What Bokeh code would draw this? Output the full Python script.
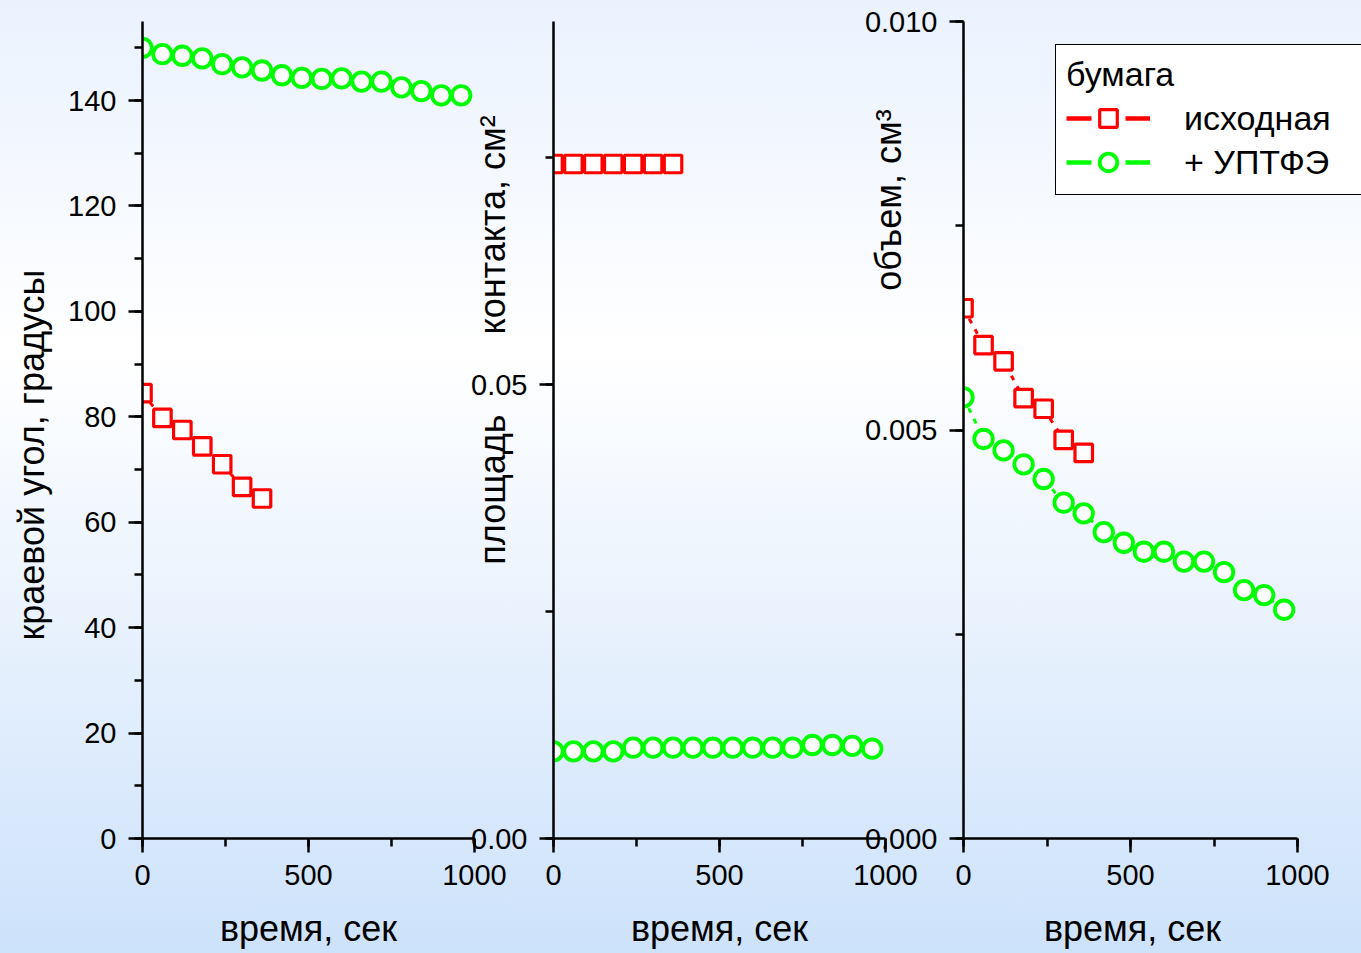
from bokeh.plotting import figure
from bokeh.layouts import row
from bokeh.models import (Range1d, NumeralTickFormatter, SingleIntervalTicker,
                          Legend, LegendItem, GlobalInlineStyleSheet)
from bokeh.embed import file_html
from bokeh.resources import INLINE

# ---------------- data ----------------
time_green = [0, 60, 120, 180, 240, 300, 360, 420, 480, 540, 600, 660, 720, 780, 840, 900, 960]
time_red = [0, 60, 120, 180, 240, 300, 360]

angle_red = [84.5, 79.8, 77.5, 74.4, 71.0, 66.7, 64.5]
angle_green = [150.0, 148.8, 148.5, 148.0, 146.9, 146.3, 145.7, 144.8, 144.3, 144.1, 144.2,
               143.6, 143.6, 142.5, 141.8, 141.0, 141.0]

area_red = [0.0743, 0.0743, 0.0743, 0.0743, 0.0743, 0.0743, 0.0743]
area_green = [0.0096, 0.0096, 0.0096, 0.0096, 0.0100, 0.0100, 0.0100, 0.0100, 0.0100, 0.0100,
              0.0100, 0.0100, 0.0100, 0.0103, 0.0103, 0.0102, 0.0099]

volume_red = [0.00649, 0.00604, 0.00584, 0.00539, 0.00526, 0.00488, 0.00472]
volume_green = [0.00540, 0.00489, 0.00475, 0.00458, 0.00440, 0.00411, 0.00398, 0.00375, 0.00362,
                0.00351, 0.00351, 0.00339, 0.00339, 0.00326, 0.00304, 0.00298, 0.00280]

series_names = ["исходная", "+ УПТФЭ"]
legend_title = "бумага"
x_title = "время, сек"
NB = "\u00a0"
y_titles = [
    "краевой угол, градусы" + NB * 5,
    NB * 18 + "площадь" + NB * 8 + "контакта, см²",
    NB * 46 + "объем, см³",
]

RED = "#ff0000"
GREEN = "#00ff00"
FONT = "Liberation Sans"

css = GlobalInlineStyleSheet(css="""
html { min-height: 100%; background: linear-gradient(180deg, #eaf2fe 0%, #ffffff 37%, #cde2fb 100%); }
body { margin: 0; background: transparent; }
""")


def make_panel(width, left, right, margin_left, x_end, y_max, y_interval, y_fmt,
               y_title, y_standoff, xlabel):
    p = figure(width=width, height=953, x_range=Range1d(0, x_end), y_range=Range1d(0, y_max),
               output_backend="svg", toolbar_location=None,
               min_border_left=left, min_border_right=right,
               min_border_top=21, min_border_bottom=115,
               background_fill_alpha=0, border_fill_alpha=0,
               outline_line_color=None, margin=(0, 0, 0, margin_left))
    p.grid.visible = False
    p.xaxis.ticker = SingleIntervalTicker(interval=500, num_minor_ticks=2)
    p.xaxis.bounds = (0, 1000)
    p.yaxis.ticker = SingleIntervalTicker(interval=y_interval, num_minor_ticks=2)
    if y_fmt:
        p.yaxis.formatter = NumeralTickFormatter(format=y_fmt)
    for ax in (p.xaxis[0], p.yaxis[0]):
        ax.axis_line_width = 2.5
        ax.axis_line_color = "black"
        ax.major_tick_line_width = 2.5
        ax.minor_tick_line_width = 2.5
        ax.major_tick_line_color = "black"
        ax.minor_tick_line_color = "black"
        ax.major_tick_out = 14
        ax.major_tick_in = 0
        ax.minor_tick_out = 8
        ax.minor_tick_in = 0
        ax.major_label_text_font = FONT
        ax.major_label_text_font_size = "29px"
        ax.major_label_text_color = "black"
        ax.major_label_standoff = 12
        ax.axis_label_text_font = FONT
        ax.axis_label_text_font_size = "36px"
        ax.axis_label_text_font_style = "normal"
        ax.axis_label_text_color = "black"
    p.xaxis.major_label_standoff = 12
    p.xaxis.axis_label = xlabel
    p.xaxis.axis_label_standoff = 20
    p.yaxis.axis_label = y_title
    p.yaxis.axis_label_standoff = y_standoff
    return p


def add_series(p, t, v, color, marker, size, lw):
    p.line(t, v, line_color=color, line_width=3, line_dash="5 7")
    return p.scatter(t, v, marker=marker, size=size, line_color=color, line_width=lw,
                     fill_color="white")


SQ, SQW = 17.5, 3.2
CI, CIW = 18.5, 3.8

p1 = make_panel(510, 142, 36, 0, 1000, 155, 20, None, y_titles[0], 13, x_title)
add_series(p1, time_red, angle_red, RED, "square", SQ, SQW)
add_series(p1, time_green, angle_green, GREEN, "circle", CI, CIW)

p2 = make_panel(453, 88, 33, -45, 1000, 0.09, 0.05, "0.00", y_titles[1], -45, x_title)
add_series(p2, time_red, area_red, RED, "square", SQ, SQW)
add_series(p2, time_green, area_green, GREEN, "circle", CI, CIW)

# third panel: frame runs to the page edge so the legend is not cut; axis bounded to 0..1000
frame3_px, axis3_px = 398, 334
p3 = make_panel(503, 105, 0, -60, 1000 * frame3_px / axis3_px, 0.010, 0.005, "0.000",
                y_titles[2], -47, x_title + NB * 6)
add_series(p3, time_red, volume_red, RED, "square", SQ, SQW)
add_series(p3, time_green, volume_green, GREEN, "circle", CI, CIW)

# legend-only glyphs (hidden renderers carrying the same data)
lr_line = p3.line(time_red, volume_red, line_color=RED, line_width=4.5, line_dash="25 34", visible=False)
lr_mark = p3.scatter(time_red, volume_red, marker="square", size=SQ, line_color=RED, line_width=SQW,
                     fill_color="white", visible=False)
lg_line = p3.line(time_green, volume_green, line_color=GREEN, line_width=4.5, line_dash="25 34", visible=False)
lg_mark = p3.scatter(time_green, volume_green, marker="circle", size=CI, line_color=GREEN, line_width=CIW,
                     fill_color="white", visible=False)

legend = Legend(items=[LegendItem(label=series_names[0], renderers=[lr_line, lr_mark]),
                       LegendItem(label=series_names[1], renderers=[lg_line, lg_mark])],
                location=(92, 643), title=legend_title,
                title_text_font=FONT, title_text_font_size="34px", title_text_font_style="normal",
                title_text_color="black",
                label_text_font=FONT, label_text_font_size="34px", label_text_color="black",
                glyph_width=84, glyph_height=44, label_height=44, label_width=220,
                label_standoff=34, spacing=0, padding=10, title_standoff=2,
                border_line_color="black", border_line_width=1.8, border_line_alpha=1,
                background_fill_color="white", background_fill_alpha=1)
p3.add_layout(legend)

layout = row(p1, p2, p3, stylesheets=[css])

open("out.html", "w").write(file_html(layout, INLINE))
